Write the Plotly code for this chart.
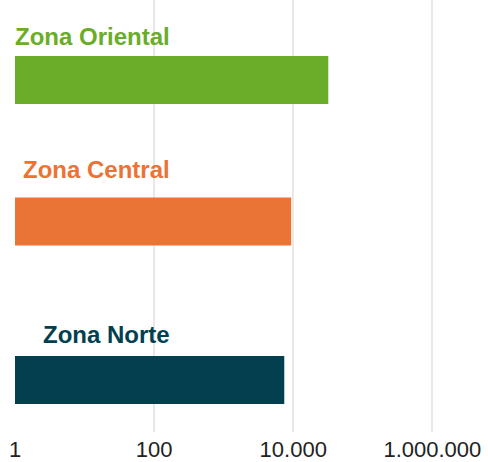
import plotly.graph_objects as go

# Data
zones = ["Zona Oriental", "Zona Central", "Zona Norte"]
values = [31900, 9350, 7430]
tick_values = [1, 100, 10000, 1000000]
tick_labels = ["1", "100", "10.000", "1.000.000"]

# Layout / style (not data)
bar_pos = [1.0, 2.77, 4.75]
label_pos = [0.45, 2.12, 4.18]
colors = ["#6aad28", "#e97435", "#024050"]

fig = go.Figure()
fig.add_trace(go.Bar(
    x=values, y=bar_pos, orientation="h",
    marker=dict(color=colors, line=dict(width=0)),
    width=0.6, base=1, hoverinfo="skip",
))

for name, yp, c in zip(zones, label_pos, colors):
    fig.add_annotation(
        text=f"<b>{name}</b>", xref="paper", x=0.332, xanchor="right",
        yref="y", y=yp, yanchor="middle", showarrow=False,
        font=dict(family="Liberation Sans, Arial, sans-serif", size=24, color=c),
    )

fig.update_layout(
    width=488, height=462,
    margin=dict(l=15, r=0, t=0, b=30),
    paper_bgcolor="white", plot_bgcolor="white",
    showlegend=False,
    font=dict(family="Liberation Sans, Arial, sans-serif", size=22, color="#222"),
    xaxis=dict(
        type="log", range=[0, 6.8],
        tickvals=tick_values, ticktext=tick_labels,
        showgrid=True, gridcolor="#e8e8e8", gridwidth=1.5,
        showline=False, zeroline=False, ticks="",
        ticklabelstandoff=2,
        tickfont=dict(size=22, color="#222"),
    ),
    yaxis=dict(
        range=[5.4, 0], showgrid=False, showticklabels=False,
        zeroline=False, showline=False,
    ),
)

fig.write_html(
    "out.html",
    config={"displayModeBar": False},
    post_script="document.body.style.margin='0';document.body.style.padding='0';document.body.style.overflow='hidden';",
)
